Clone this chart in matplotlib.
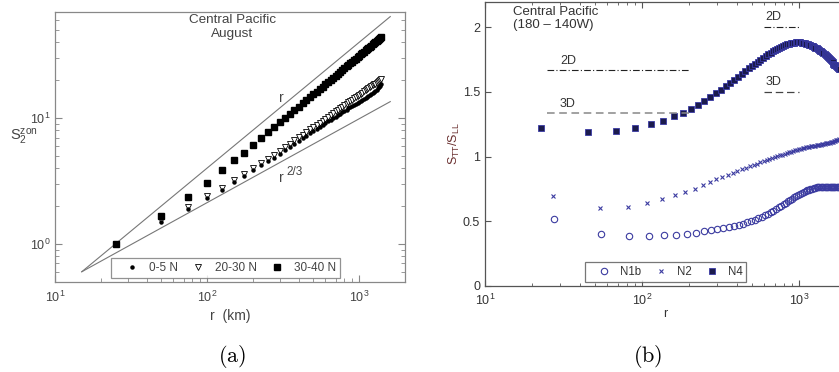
import matplotlib
matplotlib.use("Agg")
import matplotlib.pyplot as plt
from matplotlib.ticker import FixedLocator, FuncFormatter, LogLocator, NullFormatter

plt.rcParams['font.family'] = ['Liberation Sans', 'DejaVu Sans']
plt.rcParams['mathtext.default'] = 'regular'

# ---- (a) zonal second-order structure function, Central Pacific, August
r_a = [25 * k for k in range(1, 57)]

s_0_5 = [1.00, 1.50, 1.90, 2.32, 2.70, 3.10, 3.48, 3.85, 4.20, 4.52,
         4.85, 5.20, 5.56, 5.90, 6.25, 6.58, 6.91, 7.24, 7.56, 7.88,
         8.19, 8.50, 8.81, 9.11, 9.41, 9.70, 9.99, 10.28, 10.56, 10.84,
         11.12, 11.39, 11.67, 11.94, 12.19, 12.46, 12.73, 12.98, 13.23, 13.49,
         13.73, 13.99, 14.24, 14.48, 14.71, 14.96, 15.20, 15.43, 15.70, 16.00,
         16.35, 16.75, 17.20, 17.65, 18.10, 18.55]
s_20_30 = [1.00, 1.55, 1.96, 2.39, 2.80, 3.22, 3.61, 4.01, 4.40, 4.73,
           5.10, 5.49, 5.88, 6.26, 6.64, 7.01, 7.38, 7.75, 8.12, 8.48,
           8.84, 9.19, 9.55, 9.90, 10.25, 10.60, 10.94, 11.29, 11.63, 11.97,
           12.30, 12.64, 12.98, 13.31, 13.64, 13.97, 14.30, 14.63, 14.95, 15.28,
           15.60, 15.93, 16.25, 16.57, 16.89, 17.21, 17.53, 17.84, 18.16, 18.47,
           18.78, 19.10, 19.41, 19.72, 20.03, 20.34]
s_30_40 = [1.00, 1.67, 2.35, 3.07, 3.85, 4.60, 5.30, 6.10, 6.90, 7.70,
           8.50, 9.25, 10.05, 10.80, 11.55, 12.30, 13.10, 13.85, 14.60, 15.40,
           16.20, 16.95, 17.70, 18.50, 19.30, 20.10, 20.85, 21.70, 22.50, 23.30,
           24.10, 24.90, 25.70, 26.50, 27.30, 28.10, 28.90, 29.70, 30.50, 31.30,
           32.10, 32.90, 33.70, 34.50, 35.30, 36.10, 36.90, 37.70, 38.50, 39.30,
           40.10, 40.90, 41.70, 42.50, 43.30, 44.10]

# reference slopes r and r^(2/3), drawn between two end points
ref_r = [15, 1600]
ref_lin = [0.6, 64.0]
ref_23 = [0.6, 13.5]

# ---- (b) S_TT / S_LL ratio
r_n4 = [round(22.7 * k, 1) for k in range(1, 81)]
n4 = [1.220, 1.190, 1.200, 1.220, 1.250, 1.275, 1.310, 1.337, 1.368, 1.398,
      1.433, 1.462, 1.490, 1.518, 1.546, 1.572, 1.595, 1.617, 1.638, 1.660,
      1.682, 1.700, 1.718, 1.735, 1.750, 1.766, 1.780, 1.793, 1.805, 1.816,
      1.826, 1.835, 1.843, 1.851, 1.858, 1.863, 1.868, 1.872, 1.876, 1.879,
      1.881, 1.883, 1.884, 1.884, 1.883, 1.882, 1.879, 1.876, 1.873, 1.869,
      1.865, 1.861, 1.857, 1.852, 1.847, 1.842, 1.837, 1.832, 1.826, 1.820,
      1.813, 1.806, 1.799, 1.792, 1.784, 1.776, 1.768, 1.760, 1.752, 1.744,
      1.736, 1.728, 1.720, 1.712, 1.705, 1.698, 1.692, 1.686, 1.680, 1.675]

r_n2 = [27 * k for k in range(1, 68)]
n2 = [0.697, 0.604, 0.612, 0.638, 0.669, 0.700, 0.728, 0.750, 0.776, 0.800,
      0.823, 0.842, 0.860, 0.875, 0.889, 0.901, 0.913, 0.924, 0.935, 0.945,
      0.954, 0.963, 0.971, 0.979, 0.987, 0.994, 1.001, 1.008, 1.014, 1.020,
      1.026, 1.032, 1.037, 1.042, 1.047, 1.052, 1.056, 1.060, 1.064, 1.067,
      1.070, 1.073, 1.076, 1.079, 1.081, 1.083, 1.085, 1.087, 1.089, 1.091,
      1.093, 1.095, 1.097, 1.099, 1.101, 1.103, 1.105, 1.107, 1.110, 1.113,
      1.116, 1.119, 1.122, 1.125, 1.128, 1.131, 1.134]

r_n1b = [27.5 * k for k in range(1, 67)]
n1b = [0.514, 0.400, 0.385, 0.385, 0.390, 0.395, 0.401, 0.411, 0.421, 0.431,
       0.439, 0.447, 0.455, 0.463, 0.472, 0.481, 0.491, 0.501, 0.512, 0.523,
       0.534, 0.546, 0.558, 0.570, 0.582, 0.594, 0.606, 0.618, 0.630, 0.642,
       0.653, 0.664, 0.675, 0.685, 0.694, 0.703, 0.711, 0.718, 0.725, 0.731,
       0.737, 0.742, 0.747, 0.751, 0.755, 0.758, 0.761, 0.763, 0.765, 0.766,
       0.767, 0.767, 0.767, 0.767, 0.766, 0.766, 0.765, 0.765, 0.764, 0.764,
       0.763, 0.763, 0.762, 0.762, 0.761, 0.761]

# isotropy levels: left pair for r^(2/3), right pair at larger scales
lev_left_x = [25, 200]
lev_left = {'2D': 5 / 3, '3D': 4 / 3}
lev_right_x = [600, 1000]
lev_right = {'2D': 2.0, '3D': 1.5}

W, H = 839, 372
fig = plt.figure(figsize=(W / 100, H / 100), dpi=100)

txt_a = '#444444'

# ---------------- panel (a)
ax1 = fig.add_axes([55 / W, 1 - 281.7 / H, 350 / W, 270 / H])
ax1.set_xscale('log')
ax1.set_yscale('log')
ax1.set_xlim(10, 2000)
ax1.set_ylim(0.5, 70)

ax1.plot(ref_r, ref_lin, color='#777777', lw=0.8)
ax1.plot(ref_r, ref_23, color='#777777', lw=0.8)

ax1.plot(r_a, s_0_5, ls='none', marker='o', ms=2.2, color='black', label='0-5 N', zorder=4)
ax1.plot(r_a, s_20_30, ls='none', marker='v', ms=4.2, mfc='white', mec='black', mew=0.6,
         label='20-30 N', zorder=3)
ax1.plot(r_a, s_30_40, ls='none', marker='s', ms=4.3, color='black', label='30-40 N', zorder=5)

ax1.text(309, 14.3, 'r', color=txt_a, fontsize=10, ha='center', va='center')
ax1.text(309, 3.32, 'r', color=txt_a, fontsize=10, ha='center', va='center')
ax1.text(378, 3.75, '2/3', color=txt_a, fontsize=8.5, ha='center', va='center')
ax1.text(0.506, 0.99, 'Central Pacific\nAugust', transform=ax1.transAxes, ha='center',
         va='top', fontsize=9.7, color=txt_a, linespacing=1.15)
ax1.text(-0.088, 0.535, r'$S_2^{zon}$', transform=ax1.transAxes, ha='center', va='center',
         fontsize=10.5, color=txt_a)
ax1.set_xlabel('r  (km)', fontsize=10, color=txt_a, labelpad=3)

for s in ax1.spines.values():
    s.set_color('#888888')
    s.set_linewidth(0.9)
ax1.tick_params(which='both', direction='in', colors='#888888', labelcolor=txt_a,
                labelsize=9, right=True)
ax1.tick_params(which='major', length=5)
ax1.tick_params(which='minor', length=3)
ax1.tick_params(axis='x', pad=6)

leg1 = ax1.legend(loc='lower left', bbox_to_anchor=(0.16, 0.012), ncol=3, fontsize=8.5,
                  frameon=True, fancybox=False, edgecolor='#777777', handlelength=2.8,
                  handletextpad=0.05, columnspacing=0.3, borderpad=0.35, borderaxespad=0,
                  numpoints=1)
leg1.get_frame().set_linewidth(0.9)
for t in leg1.get_texts():
    t.set_color(txt_a)

# ---------------- panel (b)
ax2 = fig.add_axes([485 / W, 1 - 285.7 / H, 361.3 / W, 284.2 / H])
ax2.set_xscale('log')
ax2.set_xlim(10, 2000)
ax2.set_ylim(0, 2.2)

blue = '#3b3ba0'
ax2.plot(r_n1b, n1b, ls='none', marker='o', ms=4.6, mfc='none', mec=blue, mew=0.8, label='N1b')
ax2.plot(r_n2, n2, ls='none', marker='x', ms=3.3, mec=blue, mew=0.8, label='N2')
ax2.plot(r_n4, n4, ls='none', marker='s', ms=4.3, mfc='#1b1b4d', mec='#3a3aa5', mew=0.6,
         label='N4')

ax2.plot(lev_left_x, [lev_left['2D']] * 2, color='#222222', lw=0.8, ls=(0, (6, 2, 1, 2)))
ax2.plot(lev_left_x, [lev_left['3D']] * 2, color='#888888', lw=1.1, ls=(0, (5, 3)))
ax2.plot(lev_right_x, [lev_right['2D']] * 2, color='#222222', lw=0.8, ls=(0, (6, 2, 1, 2)))
ax2.plot(lev_right_x, [lev_right['3D']] * 2, color='#444444', lw=0.9, ls=(0, (6, 3)))
for name, y in lev_left.items():
    ax2.text(30, y + 0.03, name, fontsize=9, color='#333333', ha='left', va='bottom')
for name, y in lev_right.items():
    ax2.text(614, y + 0.03, name, fontsize=9, color='#333333', ha='left', va='bottom')

ax2.text(0.078, 0.985, 'Central Pacific\n(180 \u2013 140W)', transform=ax2.transAxes,
         ha='left', va='top', fontsize=9.5, color='#333333', linespacing=1.1)

ax2.yaxis.set_major_locator(FixedLocator([0, 0.5, 1, 1.5, 2]))
ax2.yaxis.set_major_formatter(FuncFormatter(lambda v, p: f'{v:g}'))
ax2.xaxis.set_minor_locator(LogLocator(base=10, subs=range(2, 10)))
ax2.xaxis.set_minor_formatter(NullFormatter())
ax2.set_ylabel(r'$S_{TT}/S_{LL}$', fontsize=9, color='#6a3030', labelpad=1)
ax2.set_xlabel('r', fontsize=9, color='#333333', labelpad=0)

for s in ax2.spines.values():
    s.set_color('#555555')
    s.set_linewidth(0.9)
ax2.tick_params(which='both', direction='in', colors='#555555', labelcolor='#333333',
                labelsize=9, top=True)
ax2.tick_params(which='major', length=4)
ax2.tick_params(which='minor', length=2.5)
ax2.tick_params(axis='x', pad=5)

leg2 = ax2.legend(loc='lower left', bbox_to_anchor=(0.277, 0.012), ncol=3, fontsize=8.3,
                  frameon=True, fancybox=False, edgecolor='#555555', handlelength=2.6,
                  handletextpad=0.08, columnspacing=0.43, borderpad=0.35, borderaxespad=0,
                  numpoints=1)
leg2.get_frame().set_linewidth(0.9)
for t in leg2.get_texts():
    t.set_color('#333333')

# captions under each panel
fig.text(232 / W, 1 - 357 / H, r'$\mathrm{(a)}$', math_fontfamily='cm', fontsize=16,
         ha='center', va='center')
fig.text(648 / W, 1 - 357 / H, r'$\mathrm{(b)}$', math_fontfamily='cm', fontsize=16,
         ha='center', va='center')

fig.savefig('out.png', dpi=100)
